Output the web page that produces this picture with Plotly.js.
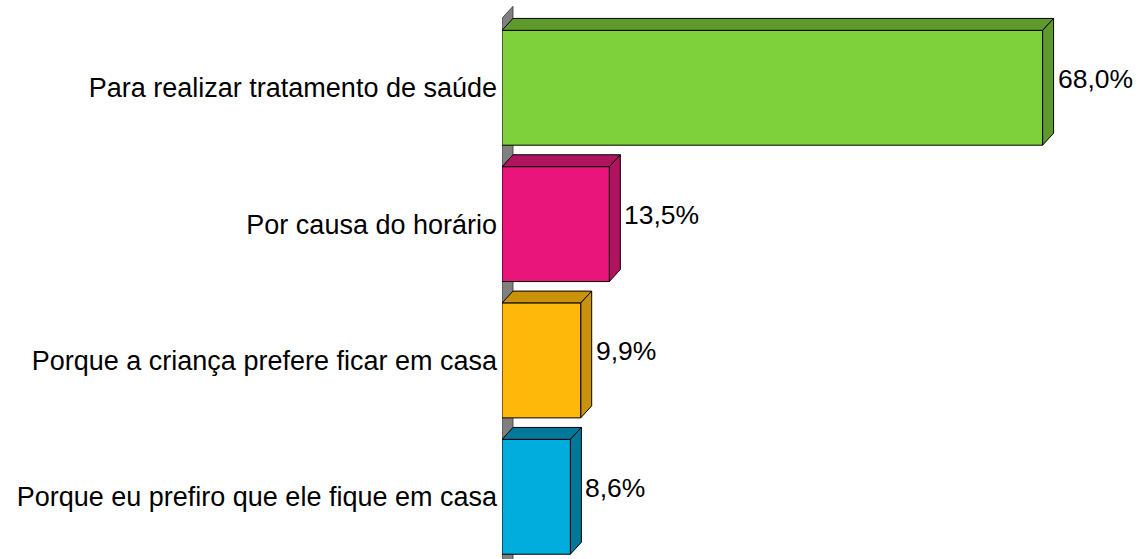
<!DOCTYPE html>
<html>
<head>
<meta charset="utf-8">
<script src="https://cdn.plot.ly/plotly-3.0.1.min.js"></script>
<style>html,body{margin:0;padding:0;background:#fff;}#chart{width:1136px;height:559px;}</style>
</head>
<body>
<div id="chart"></div>
<script>
// Data
var categories = [
  "Para realizar tratamento de saúde",
  "Por causa do horário",
  "Porque a criança prefere ficar em casa",
  "Porque eu prefiro que ele fique em casa"
];
var values = [68.0, 13.5, 9.9, 8.6];
var frontColors = ["#7FD13B", "#EA157A", "#FEB80A", "#00ADDC"];
var sideColors = ["#5E9A2B", "#B0135F", "#C9920A", "#00789A"];

var positions = categories.map(function (c, i) { return i; });
var labels = values.map(function (v) { return v.toFixed(1).replace('.', ',') + '%'; });

// 3D effect geometry (in axis units)
var half = 0.421;   // half bar thickness
var dx = 1.384;     // depth offset along x
var dy = 0.088;     // depth offset along y (upwards)

var shapes = [];
// Gray side wall
shapes.push({
  type: 'path', xref: 'x', yref: 'y', layer: 'below',
  path: 'M 0,' + (-0.51) + ' L ' + dx + ',' + (-0.51 - dy) + ' L ' + dx + ',3.7 L 0,3.8 Z',
  fillcolor: '#808080', line: {color: '#333333', width: 0.8}
});
positions.forEach(function (c, i) {
  var v = values[i];
  var t = c - half, b = c + half;
  // top face
  shapes.push({
    type: 'path', xref: 'x', yref: 'y', layer: 'below',
    path: 'M 0,' + t + ' L ' + v + ',' + t + ' L ' + (v + dx) + ',' + (t - dy) + ' L ' + dx + ',' + (t - dy) + ' Z',
    fillcolor: sideColors[i], line: {color: '#000000', width: 1}
  });
  // side face
  shapes.push({
    type: 'path', xref: 'x', yref: 'y', layer: 'below',
    path: 'M ' + v + ',' + t + ' L ' + (v + dx) + ',' + (t - dy) + ' L ' + (v + dx) + ',' + (b - dy) + ' L ' + v + ',' + b + ' Z',
    fillcolor: sideColors[i], line: {color: '#000000', width: 1}
  });
});

var annotations = positions.map(function (c, i) {
  return {
    x: values[i] + dx, y: c, xref: 'x', yref: 'y',
    text: labels[i], showarrow: false, xanchor: 'left', yanchor: 'middle',
    xshift: 2, yshift: 9,
    font: {family: 'Liberation Sans, Arial, sans-serif', size: 26.5, color: '#000'}
  };
});

var trace = {
  type: 'bar', orientation: 'h',
  x: values, y: positions,
  width: 2 * half,
  marker: {color: frontColors, line: {color: '#000000', width: 1}},
  hoverinfo: 'skip'
};

var layout = {
  width: 1136, height: 559,
  margin: {l: 502, r: 2, t: 6, b: 0, pad: 0},
  paper_bgcolor: '#ffffff', plot_bgcolor: '#ffffff',
  showlegend: false,
  font: {family: 'Liberation Sans, Arial, sans-serif', size: 27, color: '#000'},
  xaxis: {range: [0, 79.5], visible: false, showgrid: false, zeroline: false, fixedrange: true},
  yaxis: {
    range: [3.456, -0.6], tickvals: positions, ticktext: categories,
    showgrid: false, zeroline: false, showline: false, ticks: '',
    ticklabelstandoff: 4,
    tickfont: {family: 'Liberation Sans, Arial, sans-serif', size: 27, color: '#000'},
    fixedrange: true
  },
  shapes: shapes,
  annotations: annotations
};

Plotly.newPlot('chart', [trace], layout, {displayModeBar: false, staticPlot: true});
</script>
</body>
</html>
